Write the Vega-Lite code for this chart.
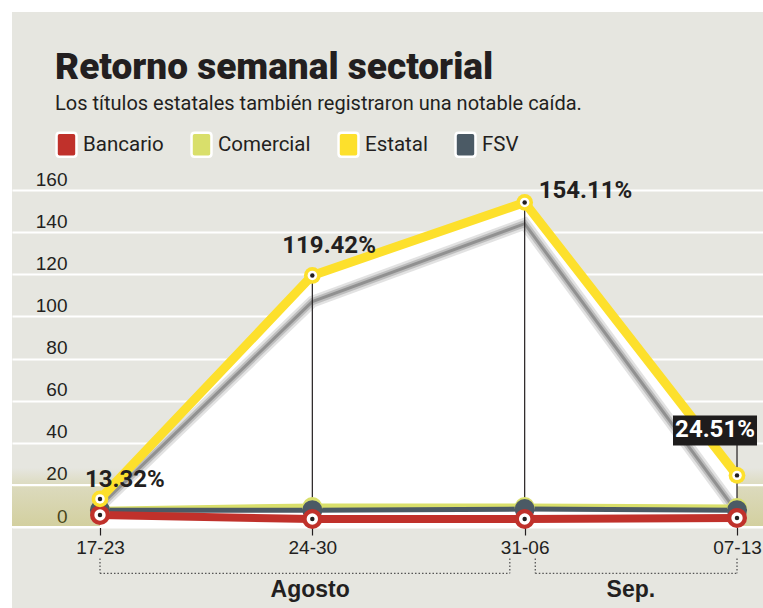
{
  "$schema": "https://vega.github.io/schema/vega-lite/v6.json",
  "width": 751,
  "height": 596,
  "autosize": {"type": "none"},
  "padding": {"left": 12, "top": 12, "right": 0, "bottom": 0},
  "background": "white",
  "config": {
    "view": {"fill": "#e6e6e0", "stroke": null},
    "font": "Roboto"
  },
  "title": {
    "text": "Retorno semanal sectorial",
    "subtitle": "Los títulos estatales también registraron una notable caída.",
    "anchor": "start",
    "frame": "group",
    "orient": "top",
    "offset": -103,
    "dx": 43,
    "font": "Roboto",
    "fontSize": 37,
    "fontWeight": 900,
    "color": "#231f20",
    "subtitleFont": "Roboto",
    "subtitleFontSize": 20,
    "subtitleColor": "#231f20",
    "subtitlePadding": 7
  },
  "datasets": {
    "main": [
      {"i": 0, "series": "Comercial", "value": 8},
      {"i": 1, "series": "Comercial", "value": 9.5},
      {"i": 2, "series": "Comercial", "value": 9.5},
      {"i": 3, "series": "Comercial", "value": 9},
      {"i": 0, "series": "FSV", "value": 8},
      {"i": 1, "series": "FSV", "value": 8},
      {"i": 2, "series": "FSV", "value": 8.5},
      {"i": 3, "series": "FSV", "value": 8},
      {"i": 0, "series": "Bancario", "value": 5.7},
      {"i": 1, "series": "Bancario", "value": 3.8},
      {"i": 2, "series": "Bancario", "value": 3.8},
      {"i": 3, "series": "Bancario", "value": 4.3},
      {"i": 0, "series": "Estatal", "value": 13.32, "label": "13.32%"},
      {"i": 1, "series": "Estatal", "value": 119.42, "label": "119.42%"},
      {"i": 2, "series": "Estatal", "value": 154.11, "label": "154.11%"},
      {"i": 3, "series": "Estatal", "value": 24.51, "label": "24.51%"}
    ],
    "shadow": [
      {"i": 0, "value": 10},
      {"i": 1, "value": 107},
      {"i": 2, "value": 144},
      {"i": 3, "value": 7}
    ],
    "months": [
      {"name": "Agosto", "from": 0, "to": 1.93, "mid": 0.99},
      {"name": "Sep.", "from": 2.05, "to": 3, "mid": 2.5}
    ]
  },
  "layer": [
    {
      "data": {"values": [{}]},
      "mark": {
        "type": "rect",
        "color": {
          "gradient": "linear",
          "x1": 0, "y1": 0, "x2": 0, "y2": 1,
          "stops": [
            {"offset": 0, "color": "rgba(170,160,21,0)"},
            {"offset": 0.3, "color": "rgba(170,160,21,0.17)"},
            {"offset": 1, "color": "rgba(170,160,21,0.32)"}
          ]
        }
      },
      "encoding": {
        "y": {
          "datum": 28,
          "type": "quantitative",
          "scale": {"domain": [0, 160], "range": [515, 178], "nice": false, "zero": false},
          "axis": {
            "title": null,
            "values": [0, 20, 40, 60, 80, 100, 120, 140, 160],
            "domain": false,
            "ticks": false,
            "tickSize": 0,
            "grid": true,
            "gridColor": "#ffffff",
            "gridWidth": 2,
            "gridOpacity": 1,
            "labelPadding": -55,
            "labelAlign": "right",
            "labelBaseline": "bottom",
            "labelOffset": -1,
            "labelFont": "Liberation Sans",
            "labelFontSize": 19,
            "labelColor": "#231f20"
          }
        },
        "y2": {"datum": 0}
      }
    },
    {
      "data": {"values": [{"g": 0}, {"g": 20}]},
      "mark": {"type": "rule", "color": "#ffffff", "strokeWidth": 2},
      "encoding": {"y": {"field": "g", "type": "quantitative"}}
    },
    {
      "data": {"name": "main"},
      "transform": [{"filter": "datum.series === 'Estatal'"}],
      "mark": {"type": "area", "color": "#ffffff", "opacity": 1},
      "encoding": {
        "x": {
          "field": "i",
          "type": "quantitative",
          "scale": {"domain": [-0.4144, 3.1224], "nice": false, "zero": false},
          "axis": {
            "title": null,
            "values": [0, 1, 2, 3],
            "labelExpr": "['17-23','24-30','31-06','07-13'][datum.value]",
            "offset": -81,
            "domain": false,
            "grid": false,
            "ticks": true,
            "tickSize": 8,
            "tickColor": "#231f20",
            "tickWidth": 1.2,
            "labelPadding": 3,
            "labelFont": "Liberation Sans",
            "labelFontSize": 19,
            "labelColor": "#231f20"
          }
        },
        "y": {"field": "value", "type": "quantitative"},
        "y2": {"datum": 0}
      }
    },
    {
      "data": {"name": "shadow"},
      "mark": {"type": "line", "color": "#cfcfcf", "strokeWidth": 12, "opacity": 0.6},
      "encoding": {"x": {"field": "i", "type": "quantitative"}, "y": {"field": "value", "type": "quantitative"}}
    },
    {
      "data": {"name": "shadow"},
      "mark": {"type": "line", "color": "#b4b4b4", "strokeWidth": 7, "opacity": 0.8},
      "encoding": {"x": {"field": "i", "type": "quantitative"}, "y": {"field": "value", "type": "quantitative"}}
    },
    {
      "data": {"name": "shadow"},
      "mark": {"type": "line", "color": "#919191", "strokeWidth": 3},
      "encoding": {"x": {"field": "i", "type": "quantitative"}, "y": {"field": "value", "type": "quantitative"}}
    },
    {
      "data": {"name": "main"},
      "transform": [{"filter": "datum.series === 'Estatal' && (datum.i === 1 || datum.i === 2)"}],
      "mark": {"type": "rule", "color": "#231f20", "strokeWidth": 1.2},
      "encoding": {
        "x": {"field": "i", "type": "quantitative"},
        "y": {"field": "value", "type": "quantitative"},
        "y2": {"datum": 0}
      }
    },
    {
      "data": {"name": "main"},
      "transform": [{"filter": "datum.series === 'Estatal' && datum.i === 3"}],
      "mark": {"type": "rule", "color": "#231f20", "strokeWidth": 1.2},
      "encoding": {
        "x": {"field": "i", "type": "quantitative"},
        "y": {"datum": 39},
        "y2": {"datum": 0}
      }
    },
    {
      "data": {"name": "main"},
      "transform": [{"filter": "datum.series === 'Comercial'"}],
      "mark": {"type": "line", "strokeWidth": 7, "color": "#d9df6b"},
      "encoding": {
        "x": {"field": "i", "type": "quantitative"},
        "y": {"field": "value", "type": "quantitative"}
      }
    },
    {
      "data": {"name": "main"},
      "transform": [{"filter": "datum.series === 'FSV'"}],
      "mark": {"type": "line", "strokeWidth": 5, "color": "#4b5a65"},
      "encoding": {
        "x": {"field": "i", "type": "quantitative"},
        "y": {"field": "value", "type": "quantitative"}
      }
    },
    {
      "data": {"name": "main"},
      "transform": [{"filter": "datum.series === 'Bancario'"}],
      "mark": {"type": "line", "strokeWidth": 8, "color": "#c0312b"},
      "encoding": {
        "x": {"field": "i", "type": "quantitative"},
        "y": {"field": "value", "type": "quantitative"}
      }
    },
    {
      "data": {"name": "main"},
      "transform": [{"filter": "datum.series === 'Estatal'"}],
      "mark": {"type": "line", "strokeWidth": 9, "strokeJoin": "round", "color": "#fde02c"},
      "encoding": {
        "x": {"field": "i", "type": "quantitative"},
        "y": {"field": "value", "type": "quantitative"}
      }
    },
    {
      "data": {"name": "main"},
      "mark": {"type": "point", "filled": true, "opacity": 1, "shape": "circle"},
      "encoding": {
        "x": {"field": "i", "type": "quantitative"},
        "y": {"field": "value", "type": "quantitative"},
        "size": {"condition": {"test": "datum.series === 'Estatal'", "value": 280}, "value": 400},
        "color": {
          "field": "series",
          "type": "nominal",
          "scale": {
            "domain": ["Bancario", "Comercial", "Estatal", "FSV"],
            "range": ["#c0312b", "#d9df6b", "#fde02c", "#4b5a65"]
          },
          "legend": {
            "title": null,
            "orient": "none",
            "legendX": 41,
            "legendY": 119,
            "direction": "horizontal",
            "padding": 0,
            "symbolType": "M-0.58,-1H0.58Q0.83,-1 0.83,-0.75V0.75Q0.83,1 0.58,1H-0.58Q-0.83,1 -0.83,0.75V-0.75Q-0.83,-1 -0.58,-1Z",
            "symbolSize": 576,
            "symbolStrokeColor": "#ffffff",
            "symbolStrokeWidth": 2.5,
            "symbolOpacity": 1,
            "labelFont": "Roboto",
            "labelFontSize": 20.5,
            "labelColor": "#231f20",
            "labelOffset": 3,
            "columnPadding": 22,
            "labelLimit": 200
          }
        }
      }
    },
    {
      "data": {"name": "main"},
      "transform": [{"filter": "datum.series === 'Estatal' || datum.series === 'Bancario'"}],
      "mark": {"type": "point", "filled": true, "opacity": 1, "shape": "circle", "color": "#ffffff"},
      "encoding": {
        "x": {"field": "i", "type": "quantitative"},
        "y": {"field": "value", "type": "quantitative"},
        "size": {"condition": {"test": "datum.series === 'Estatal'", "value": 90}, "value": 130}
      }
    },
    {
      "data": {"name": "main"},
      "transform": [{"filter": "datum.series === 'Estatal' || datum.series === 'Bancario'"}],
      "mark": {"type": "point", "filled": true, "opacity": 1, "shape": "circle", "color": "#231f20", "size": 20},
      "encoding": {
        "x": {"field": "i", "type": "quantitative"},
        "y": {"field": "value", "type": "quantitative"}
      }
    },
    {
      "data": {"name": "main"},
      "transform": [{"filter": "datum.series === 'Estatal' && datum.i === 0"}],
      "mark": {"type": "text", "font": "Roboto", "fontWeight": "bold", "fontSize": 24, "color": "#231f20", "align": "left", "baseline": "middle", "dx": -15, "dy": -19},
      "encoding": {
        "x": {"field": "i", "type": "quantitative"},
        "y": {"field": "value", "type": "quantitative"},
        "text": {"field": "label"}
      }
    },
    {
      "data": {"name": "main"},
      "transform": [{"filter": "datum.series === 'Estatal' && datum.i === 1"}],
      "mark": {"type": "text", "font": "Roboto", "fontWeight": "bold", "fontSize": 24, "color": "#231f20", "align": "left", "baseline": "middle", "dx": -30, "dy": -29},
      "encoding": {
        "x": {"field": "i", "type": "quantitative"},
        "y": {"field": "value", "type": "quantitative"},
        "text": {"field": "label"}
      }
    },
    {
      "data": {"name": "main"},
      "transform": [{"filter": "datum.series === 'Estatal' && datum.i === 2"}],
      "mark": {"type": "text", "font": "Roboto", "fontWeight": "bold", "fontSize": 24, "color": "#231f20", "align": "left", "baseline": "middle", "dx": 14, "dy": -11},
      "encoding": {
        "x": {"field": "i", "type": "quantitative"},
        "y": {"field": "value", "type": "quantitative"},
        "text": {"field": "label"}
      }
    },
    {
      "data": {"name": "main"},
      "transform": [{"filter": "datum.series === 'Estatal' && datum.i === 3"}],
      "mark": {"type": "point", "filled": true, "opacity": 1, "color": "#1e1c1c", "shape": "M-1.4,-0.5H1.4V0.5H-1.4Z", "size": 3600, "xOffset": -22, "yOffset": -45},
      "encoding": {
        "x": {"field": "i", "type": "quantitative"},
        "y": {"field": "value", "type": "quantitative"}
      }
    },
    {
      "data": {"name": "main"},
      "transform": [{"filter": "datum.series === 'Estatal' && datum.i === 3"}],
      "mark": {"type": "text", "font": "Roboto", "fontWeight": "bold", "fontSize": 24, "color": "#ffffff", "align": "center", "baseline": "middle", "dx": -22, "dy": -45},
      "encoding": {
        "x": {"field": "i", "type": "quantitative"},
        "y": {"field": "value", "type": "quantitative"},
        "text": {"field": "label"}
      }
    },
    {
      "data": {"name": "months"},
      "mark": {"type": "rule", "color": "#555555", "strokeWidth": 1.3, "strokeDash": [1.5, 2]},
      "encoding": {
        "x": {"field": "from", "type": "quantitative"},
        "x2": {"field": "to"},
        "y": {"datum": -22}
      }
    },
    {
      "data": {"name": "months"},
      "mark": {"type": "rule", "color": "#555555", "strokeWidth": 1.3, "strokeDash": [1.5, 2]},
      "encoding": {
        "x": {"field": "from", "type": "quantitative"},
        "y": {"datum": -15},
        "y2": {"datum": -22}
      }
    },
    {
      "data": {"name": "months"},
      "mark": {"type": "rule", "color": "#555555", "strokeWidth": 1.3, "strokeDash": [1.5, 2]},
      "encoding": {
        "x": {"field": "to", "type": "quantitative"},
        "y": {"datum": -15},
        "y2": {"datum": -22}
      }
    },
    {
      "data": {"name": "months"},
      "mark": {"type": "text", "font": "Liberation Sans", "fontWeight": "bold", "fontSize": 23, "color": "#231f20", "align": "center", "baseline": "middle"},
      "encoding": {
        "x": {"field": "mid", "type": "quantitative"},
        "y": {"datum": -30},
        "text": {"field": "name"}
      }
    }
  ]
}
